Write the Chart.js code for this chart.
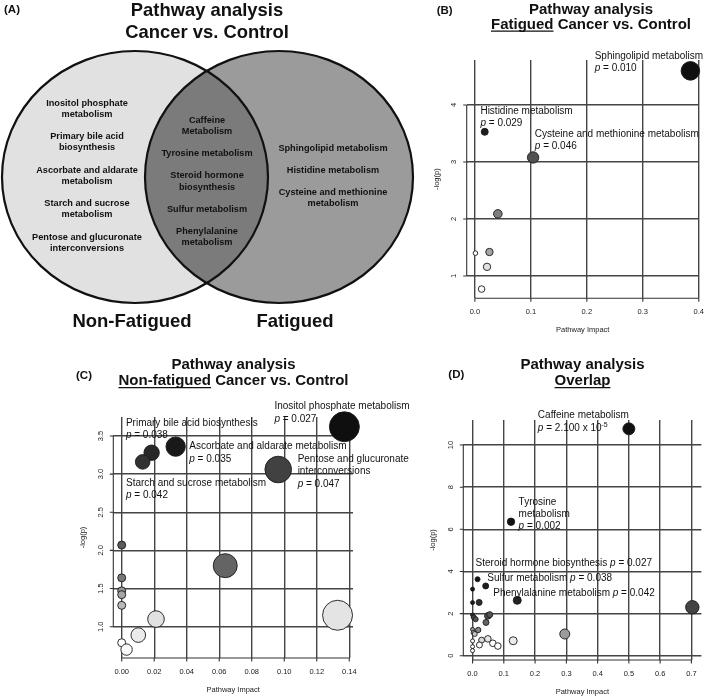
<!DOCTYPE html>
<html><head><meta charset="utf-8">
<script src="https://cdn.jsdelivr.net/npm/chart.js@4.4.1/dist/chart.umd.min.js"></script>
<style>
html,body{margin:0;padding:0;background:#fff;}
#wrap{position:relative;width:709px;height:698px;overflow:hidden;background:#fff;}
canvas{position:absolute;}
</style></head><body>
<div id="wrap">
<canvas id="cA" width="430" height="345" style="left:0;top:0;width:430px;height:345px"></canvas>
<canvas id="cB" width="279" height="345" style="left:430px;top:0;width:279px;height:345px"></canvas>
<canvas id="cC" width="430" height="353" style="left:0;top:345px;width:430px;height:353px"></canvas>
<canvas id="cD" width="289" height="353" style="left:420px;top:345px;width:289px;height:353px"></canvas>
</div>
<script>
// ---------------- DATA ----------------
// Panel A: Venn diagram sets
const vennSetNames = ["Non-Fatigued", "Fatigued"];
const vennNonFatiguedOnly = ["Inositol phosphate\nmetabolism", "Primary bile acid\nbiosynthesis", "Ascorbate and aldarate\nmetabolism", "Starch and sucrose\nmetabolism", "Pentose and glucuronate\ninterconversions"];
const vennOverlap = ["Caffeine\nMetabolism", "Tyrosine metabolism", "Steroid hormone\nbiosynthesis", "Sulfur metabolism", "Phenylalanine\nmetabolism"];
const vennFatiguedOnly = ["Sphingolipid metabolism", "Histidine metabolism", "Cysteine and methionine\nmetabolism"];

// Panel B: Fatigued cancer vs control
const bImpact = [0.385, 0.0176, 0.104, 0.041, 0.026, 0.001, 0.0217, 0.012];
const bLogP   = [4.60, 3.53, 3.08, 2.09, 1.42, 1.40, 1.16, 0.77];
const bSize   = [9.3, 3.5, 5.7, 4.3, 3.7, 2.3, 3.7, 3.3];
const bShade  = [15, 30, 80, 125, 165, 255, 225, 250];
const bXTicks = [0, 0.1, 0.2, 0.3, 0.4];
const bYTicks = [1, 2, 3, 4];
const bLabelIdx = [0, 1, 2];
const bLabelNames = ["Sphingolipid metabolism", "Histidine metabolism", "Cysteine and methionine metabolism"];
const bLabelP = ["0.010", "0.029", "0.046"];

// Panel C: Non-fatigued cancer vs control
const cImpact = [0.137, 0.0332, 0.0184, 0.0129, 0.0963, 0.0637, 0.1328, 0, 0, 0, 0, 0, 0.0211, 0.0102, 0, 0.003];
const cLogP   = [3.62, 3.36, 3.28, 3.16, 3.06, 1.80, 1.15, 2.07, 1.64, 1.47, 1.42, 1.28, 1.10, 0.89, 0.79, 0.70];
const cSize   = [15, 9.7, 7.7, 7.3, 13.3, 12, 15, 4, 4, 4, 4, 4, 8.3, 7.3, 4, 5.7];
const cShade  = [15, 25, 40, 50, 65, 100, 228, 90, 120, 150, 165, 185, 225, 235, 255, 250];
const cXTicks = [0, 0.02, 0.04, 0.06, 0.08, 0.10, 0.12, 0.14];
const cYTicks = [1.0, 1.5, 2.0, 2.5, 3.0, 3.5];
const cLabelIdx = [0, 1, 2, 3, 4];
const cLabelNames = ["Inositol phosphate metabolism", "Ascorbate and aldarate metabolism", "Primary bile acid biosynthesis", "Starch and sucrose metabolism", "Pentose and glucuronate\ninterconversions"];
const cLabelP = ["0.027", "0.035", "0.038", "0.042", "0.047"];

// Panel D: Overlap
const dImpact = [0.50, 0.123, 0.016, 0.042, 0.143, 0.0, 0.0, 0.021, 0.703, 0.0, 0.004, 0.010, 0.049, 0.055, 0.043, 0.0, 0.018, 0.003, 0.007, 0.029, 0.049, 0.0, 0.0, 0.0, 0.022, 0.065, 0.081, 0.130, 0.295];
const dLogP   = [10.77, 6.36, 3.63, 3.31, 2.63, 3.16, 2.52, 2.53, 2.30, 1.93, 1.82, 1.73, 1.89, 1.95, 1.58, 1.25, 1.22, 1.09, 1.03, 0.74, 0.80, 0.70, 0.43, 0.24, 0.51, 0.59, 0.46, 0.71, 1.03];
const dSize   = [6, 3.7, 2.5, 3, 4, 2, 2, 3, 6.7, 2, 2.5, 2.5, 3.3, 3, 3, 2, 2.7, 2.3, 2.5, 3, 3.3, 2, 2, 2, 3, 3.3, 3.3, 4, 5];
const dShade  = [17, 17, 20, 30, 35, 20, 25, 45, 68, 45, 70, 85, 85, 85, 100, 150, 135, 185, 200, 215, 230, 255, 255, 255, 255, 255, 255, 235, 155];
const dXTicks = [0, 0.1, 0.2, 0.3, 0.4, 0.5, 0.6, 0.7];
const dYTicks = [0, 2, 4, 6, 8, 10];
const dLabelIdx = [0, 1, 2, 3, 4];
const dLabelNames = ["Caffeine metabolism", "Tyrosine\nmetabolism", "Steroid hormone biosynthesis", "Sulfur metabolism", "Phenylalanine metabolism"];
const dLabelP = ["2.100 x 10^-5", "0.002", "0.027", "0.038", "0.042"];

// ---------------- HELPERS ----------------
const FAM = '"Liberation Sans", Arial, Helvetica, sans-serif';
function fontOf(s, size, bold) {
  const sz = s.sup ? size * 0.7 : size;
  return (s.i ? 'italic ' : '') + ((bold || s.b) ? 'bold ' : '') + sz + 'px ' + FAM;
}
function drawSegs(ctx, x, y, segs, size, align, bold) {
  let w = 0;
  segs.forEach(s => { ctx.font = fontOf(s, size, bold); s._w = ctx.measureText(s.t).width; w += s._w; });
  let cx = align === 'center' ? x - w / 2 : x;
  ctx.textAlign = 'left';
  ctx.textBaseline = 'alphabetic';
  segs.forEach(s => {
    ctx.font = fontOf(s, size, bold);
    ctx.fillText(s.t, cx, s.sup ? y - size * 0.42 : y);
    if (s.u) {
      ctx.save(); ctx.strokeStyle = ctx.fillStyle; ctx.lineWidth = 1.4;
      ctx.beginPath(); ctx.moveTo(cx, y + 2.6); ctx.lineTo(cx + s._w, y + 2.6); ctx.stroke(); ctx.restore();
    }
    cx += s._w;
  });
}
function pSegs(p) {
  const parts = p.split('^');
  const segs = [{t: 'p', i: true}, {t: ' = ' + parts[0]}];
  if (parts[1]) segs.push({t: parts[1], sup: true});
  return segs;
}

// ---------------- PANEL A : VENN ----------------
const vennPlugin = {
  id: 'venn',
  afterDraw(chart, args, o) {
    const ctx = chart.ctx, xs = chart.scales.x, ys = chart.scales.y;
    const E = c => ({
      x: xs.getPixelForValue(c.cx), y: ys.getPixelForValue(c.cy),
      rx: Math.abs(xs.getPixelForValue(c.cx + c.rx) - xs.getPixelForValue(c.cx)),
      ry: Math.abs(ys.getPixelForValue(c.cy + c.ry) - ys.getPixelForValue(c.cy))
    });
    const L = E(o.circles[0]), R = E(o.circles[1]);
    const path = e => { ctx.beginPath(); ctx.ellipse(e.x, e.y, e.rx, e.ry, 0, 0, Math.PI * 2); };
    ctx.save();
    path(L); ctx.fillStyle = o.circles[0].fill; ctx.fill();
    path(R); ctx.fillStyle = o.circles[1].fill; ctx.fill();
    ctx.save(); path(L); ctx.clip(); path(R); ctx.fillStyle = o.overlapFill; ctx.fill(); ctx.restore();
    ctx.lineWidth = 2.2; ctx.strokeStyle = '#111';
    path(L); ctx.stroke(); path(R); ctx.stroke();
    // member texts
    ctx.fillStyle = '#111';
    ctx.font = 'bold ' + o.memberSize + 'px ' + FAM;
    ctx.textAlign = 'center'; ctx.textBaseline = 'middle';
    o.columns.forEach(col => {
      let y = col.y0;
      col.items.forEach(item => {
        const lines = item.split('\n');
        lines.forEach((ln, k) => ctx.fillText(ln, xs.getPixelForValue(col.cx), ys.getPixelForValue(y + k * o.lineH)));
        y += lines.length * o.lineH + o.groupGap;
      });
    });
    // set names
    ctx.font = 'bold ' + o.setNameSize + 'px ' + FAM;
    ctx.textBaseline = 'alphabetic';
    o.setNames.forEach(s => ctx.fillText(s.text, xs.getPixelForValue(s.x), ys.getPixelForValue(s.y)));
    // titles
    ctx.fillStyle = '#111';
    drawSegs(ctx, 4, 13.3, [{t: '(A)'}], 11.5, 'left', true);
    drawSegs(ctx, 207, 16, [{t: 'Pathway analysis'}], 18.4, 'center', true);
    drawSegs(ctx, 207, 38, [{t: 'Cancer vs. Control'}], 18.4, 'center', true);
    ctx.restore();
  }
};

new Chart(document.getElementById('cA'), {
  type: 'scatter',
  data: {datasets: []},
  options: {
    responsive: false, animation: false, events: [],
    layout: {padding: 0},
    scales: {
      x: {type: 'linear', min: 0, max: 430, display: false},
      y: {type: 'linear', min: 0, max: 345, reverse: true, display: false}
    },
    plugins: {
      legend: {display: false}, tooltip: {enabled: false},
      venn: {
        circles: [
          {cx: 135, cy: 177, rx: 133, ry: 126, fill: '#e1e1e1'},
          {cx: 279, cy: 177, rx: 134, ry: 126, fill: '#9b9b9b'}
        ],
        overlapFill: '#7b7b7b',
        memberSize: 9.2, lineH: 11.3, groupGap: 10.9,
        columns: [
          {items: vennNonFatiguedOnly, cx: 87, y0: 103},
          {items: vennOverlap, cx: 207, y0: 120},
          {items: vennFatiguedOnly, cx: 333, y0: 148}
        ],
        setNameSize: 18.5,
        setNames: [{text: vennSetNames[0], x: 132, y: 327}, {text: vennSetNames[1], x: 295, y: 327}]
      }
    }
  },
  plugins: [vennPlugin]
});

// ---------------- BUBBLE PANELS ----------------
const rPlugin = {
  id: 'rPanel',
  beforeDatasetsDraw(chart, args, o) {
    const ctx = chart.ctx, a = chart.chartArea, xs = chart.scales.x, ys = chart.scales.y;
    ctx.save();
    ctx.strokeStyle = '#333'; ctx.lineWidth = 1.1;
    const x0 = xs.getPixelForValue(o.xTicks[0]), x1 = xs.getPixelForValue(o.xTicks[o.xTicks.length - 1]);
    const y0 = ys.getPixelForValue(o.yTicks[0]), y1 = ys.getPixelForValue(o.yTicks[o.yTicks.length - 1]);
    ctx.beginPath();
    ctx.moveTo(x0, a.bottom); ctx.lineTo(x1, a.bottom);
    ctx.moveTo(a.left, y0); ctx.lineTo(a.left, y1);
    o.xTicks.forEach(v => { const p = xs.getPixelForValue(v); ctx.moveTo(p, a.bottom); ctx.lineTo(p, a.bottom + 3.5); });
    o.yTicks.forEach(v => { const p = ys.getPixelForValue(v); ctx.moveTo(a.left, p); ctx.lineTo(a.left - 3.5, p); });
    ctx.stroke();
    // tick labels
    ctx.fillStyle = '#222';
    ctx.font = '7.5px ' + FAM;
    ctx.textAlign = 'center'; ctx.textBaseline = 'middle';
    o.xTicks.forEach(v => ctx.fillText(v.toFixed(o.xDigits), xs.getPixelForValue(v), a.bottom + 14));
    o.yTicks.forEach(v => {
      ctx.save(); ctx.translate(a.left - 12.5, ys.getPixelForValue(v)); ctx.rotate(-Math.PI / 2);
      ctx.fillText(v.toFixed(o.yDigits), 0, 0); ctx.restore();
    });
    // axis titles
    ctx.fillText(o.xTitle, (a.left + a.right) / 2, a.bottom + 32);
    ctx.save(); ctx.translate(a.left - 30, (a.top + a.bottom) / 2); ctx.rotate(-Math.PI / 2);
    ctx.fillText(o.yTitle, 0, 0); ctx.restore();
    ctx.restore();
  },
  afterDatasetsDraw(chart, args, o) {
    const ctx = chart.ctx, xs = chart.scales.x, ys = chart.scales.y;
    ctx.save();
    ctx.fillStyle = '#111';
    o.notes.forEach(n => {
      const px = xs.getPixelForValue(o.x[n.idx]) + n.dx;
      const py = ys.getPixelForValue(o.y[n.idx]) + n.dy;
      const lines = n.name.split('\n').map(t => [{t}]);
      const pv = pSegs(n.p);
      if (n.inline) lines[lines.length - 1] = lines[lines.length - 1].concat([{t: ' '}], pv);
      else lines.push(pv);
      lines.forEach((segs, k) => drawSegs(ctx, px, py + k * o.noteGap, segs, 10, 'left', false));
    });
    // panel tag and title
    drawSegs(ctx, o.tagX, o.tagY, [{t: o.tag}], 11.5, 'left', true);
    o.title.forEach((segs, k) => drawSegs(ctx, o.titleX, o.titleY[k], segs, 15, 'center', true));
    ctx.restore();
  }
};

function bubblePanel(id, o) {
  const pts = o.x.map((v, i) => ({x: v, y: o.y[i], r: o.r[i]}));
  const cols = o.shade.map(g => 'rgb(' + g + ',' + g + ',' + g + ')');
  const grid = {color: '#454545', lineWidth: 1.4, drawTicks: false};
  return new Chart(document.getElementById(id), {
    type: 'bubble',
    data: {datasets: [{data: pts, backgroundColor: cols, borderColor: '#1a1a1a', borderWidth: 0.9, clip: false, hoverRadius: 0}]},
    options: {
      responsive: false, animation: false, events: [],
      layout: {padding: o.pad},
      plugins: {legend: {display: false}, tooltip: {enabled: false}, rPanel: o},
      scales: {
        x: {type: 'linear', min: o.xMin, max: o.xMax, ticks: {display: false}, grid, border: {display: false},
            afterBuildTicks: s => { s.ticks = o.xTicks.map(v => ({value: v})); },
            afterFit: s => { s.height = 0; }},
        y: {type: 'linear', min: o.yMin, max: o.yMax, ticks: {display: false}, grid, border: {display: false},
            afterBuildTicks: s => { s.ticks = o.yTicks.map(v => ({value: v})); },
            afterFit: s => { s.width = 0; }}
      }
    },
    plugins: [rPlugin]
  });
}

const mkNotes = (idx, names, ps, pos) => names.map((name, k) => Object.assign({name, p: ps[k], idx: idx[k]}, pos[k]));

bubblePanel('cB', {
  x: bImpact, y: bLogP, r: bSize, shade: bShade,
  xTicks: bXTicks, yTicks: bYTicks, xDigits: 1, yDigits: 0,
  xMin: -0.0146, xMax: 0.4, yMin: 0.608, yMax: 4.79,
  pad: {left: 36.7, right: 6, top: 60, bottom: 46.7},
  xTitle: 'Pathway Impact', yTitle: '-log(p)',
  tag: '(B)', tagX: 6.7, tagY: 14,
  title: [[{t: 'Pathway analysis'}], [{t: 'Fatigued', u: true}, {t: ' Cancer vs. Control'}]],
  titleX: 161, titleY: [13.5, 28.5],
  noteGap: 12,
  notes: mkNotes(bLabelIdx, bLabelNames, bLabelP, [{dx: -95.7, dy: -11.7}, {dx: -4.3, dy: -17.5}, {dx: 1.7, dy: -20.6}])
});

bubblePanel('cC', {
  x: cImpact, y: cLogP, r: cSize, shade: cShade,
  xTicks: cXTicks, yTicks: cYTicks, xDigits: 2, yDigits: 1,
  xMin: -0.00517, xMax: 0.1423, yMin: 0.59, yMax: 3.748,
  pad: {left: 113.3, right: 77, top: 72, bottom: 40},
  xTitle: 'Pathway Impact', yTitle: '-log(p)',
  tag: '(C)', tagX: 76, tagY: 34,
  title: [[{t: 'Pathway analysis'}], [{t: 'Non-fatigued', u: true}, {t: ' Cancer vs. Control'}]],
  titleX: 233.5, titleY: [24, 40],
  noteGap: 12.3,
  notes: mkNotes(cLabelIdx, cLabelNames, cLabelP, [{dx: -70, dy: -17.4}, {dx: 13.6, dy: 2.6}, {dx: -25.7, dy: -26.7}, {dx: -16.7, dy: 24}, {dx: 19.4, dy: -7.6}])
});

bubblePanel('cD', {
  x: dImpact, y: dLogP, r: dSize, shade: dShade,
  xTicks: dXTicks, yTicks: dYTicks, xDigits: 1, yDigits: 0,
  xMin: -0.0296, xMax: 0.732, yMin: -0.204, yMax: 11.19,
  pad: {left: 43.3, right: 4, top: 75, bottom: 38},
  xTitle: 'Pathway Impact', yTitle: '-log(p)',
  tag: '(D)', tagX: 28.3, tagY: 33.3,
  title: [[{t: 'Pathway analysis'}], [{t: 'Overlap', u: true}]],
  titleX: 162.5, titleY: [24.3, 40],
  noteGap: 12.3,
  notes: mkNotes(dLabelIdx, dLabelNames, dLabelP, [{dx: -91, dy: -10.4}, {dx: 7.6, dy: -17.2}, {dx: -2, dy: -13.6, inline: true}, {dx: 1.6, dy: -5, inline: true}, {dx: -24, dy: -4, inline: true}])
});
</script>
</body></html>
